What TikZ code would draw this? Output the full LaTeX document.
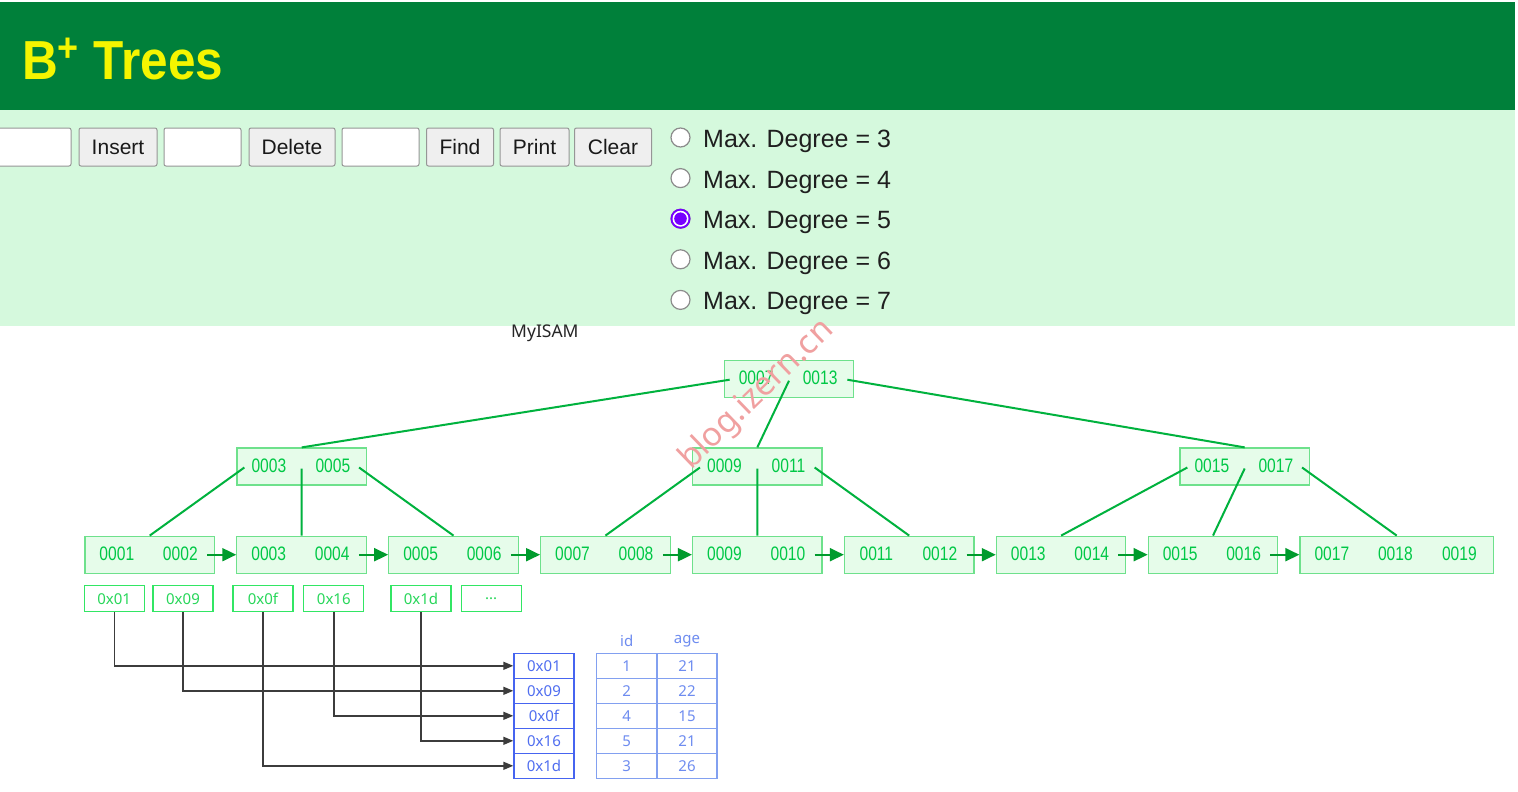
\documentclass[tikz,border=0pt]{standalone}
\usepackage{fontspec}
\setmainfont{Liberation Sans}
\newfontfamily\narrowf[FakeStretch=0.8]{Liberation Sans}
\newfontfamily\titlef[FakeStretch=0.9]{Liberation Sans}
\newfontfamily\notof{Noto Sans}
\usetikzlibrary{arrows.meta,calc}
\definecolor{hdr}{RGB}{0,128,58}
\definecolor{ttl}{RGB}{245,245,0}
\definecolor{panel}{RGB}{213,249,221}
\definecolor{kfill}{RGB}{230,252,234}
\definecolor{kbord}{RGB}{110,225,140}
\definecolor{ktext}{RGB}{0,200,70}
\definecolor{edgec}{RGB}{0,178,62}
\definecolor{arrc}{RGB}{0,155,45}
\definecolor{pbord}{RGB}{50,230,100}
\definecolor{ptext}{RGB}{40,215,90}
\definecolor{abord}{RGB}{70,100,240}
\definecolor{atext}{RGB}{80,110,240}
\definecolor{cbord}{RGB}{130,160,240}
\definecolor{ctext}{RGB}{110,140,240}
\definecolor{linkc}{RGB}{60,60,60}
\definecolor{btnf}{RGB}{239,239,239}
\definecolor{btnb}{RGB}{150,150,150}
\definecolor{radb}{RGB}{140,140,140}
\definecolor{radsel}{RGB}{118,0,255}
\definecolor{wmc}{RGB}{240,160,160}
\begin{document}
\begin{tikzpicture}[x=1pt,y=-1pt,
  knode/.style={draw=kbord, fill=kfill, line width=1.2pt, minimum height=37pt, minimum width=129.5pt, inner sep=0pt},
  key/.style={text=ktext, font=\narrowf\fontsize{19.5}{20}\selectfont, inner sep=0pt},
  tedge/.style={draw=edgec, line width=2pt},
  larrow/.style={draw=arrc, line width=2pt, -{Triangle[length=14pt,width=13pt]}},
  ptr/.style={draw=pbord, fill=white, line width=1.2pt, minimum width=60pt, minimum height=26pt, inner sep=0pt, text=ptext, font=\notof\fontsize{15}{15}\selectfont},
  addr/.style={draw=abord, line width=1.4pt, minimum width=60pt, minimum height=25pt, inner sep=0pt, text=atext, font=\notof\fontsize{15}{15}\selectfont},
  cell/.style={draw=cbord, line width=1.2pt, minimum width=60pt, minimum height=25pt, inner sep=0pt, text=ctext, font=\notof\fontsize{15}{15}\selectfont},
  colhead/.style={inner sep=0pt, text=ctext, font=\notof\fontsize{15}{15}\selectfont},
  link/.style={draw=linkc, line width=1.4pt, -{Triangle[length=10pt,width=8pt]}},
  btn/.style={draw=btnb, fill=btnf, rounded corners=2pt, line width=1pt, minimum height=38pt, inner sep=0pt, font=\fontsize{21}{21}\selectfont, text=black!90},
  inbox/.style={draw=btnb, fill=white, rounded corners=2pt, line width=1pt, minimum height=38pt, inner sep=0pt},
  radio/.style={circle, draw=radb, fill=white, line width=1.2pt, minimum size=19pt, inner sep=0pt},
  deg/.style={anchor=base west, inner sep=0pt, font=\fontsize{25}{25}\selectfont, text=black!88}
]
\useasboundingbox (0,0) rectangle (1518,792);
\fill[white] (0,0) rectangle (1518,792);
\fill[hdr] (0,2) rectangle (1515,110);
\fill[panel] (0,110) rectangle (1515,326);

% title
\node[anchor=base west, inner sep=0pt, text=ttl, font=\titlef\bfseries\fontsize{55}{55}\selectfont] (title) at (22,80)
  {B\raisebox{18.5pt}{\fontsize{40}{40}\selectfont +}\hspace{15pt}Trees};

% controls
\node[inbox, minimum width=80pt] (in1) at (31,147) {};
\node[btn, minimum width=78pt] (bins) at (118,147) {Insert};
\node[inbox, minimum width=77pt] (in2) at (202.5,147) {};
\node[btn, minimum width=86pt] (bdel) at (292,147) {Delete};
\node[inbox, minimum width=77pt] (in3) at (380.5,147) {};
\node[btn, minimum width=67pt] (bfind) at (460,147) {Find};
\node[btn, minimum width=69pt] (bprint) at (534.5,147) {Print};
\node[btn, minimum width=77pt] (bclear) at (613,147) {Clear};

% radio options
\foreach \i/\d in {0/3,1/4,2/5,3/6,4/7} {
  \node[radio] (r\d) at (680.5,{137.5+40.6*\i}) {};
  \node[deg] (t\d) at (703,{147.8+40.5*\i}) {Max. Degree = \d};
}
\fill[radsel] (r5.center) circle (10pt);
\fill[white] (r5.center) circle (8pt);
\fill[radsel] (r5.center) circle (6.3pt);

\node[anchor=base west, inner sep=0pt, font=\notof\fontsize{17.5}{17.5}\selectfont, text=black!85] (my) at (511,337) {MyISAM};

% tree: root and internal nodes
\node[knode] (R) at (789,378.7) {};
\node[key] (R1) at ($(R.west)+(32.5,-1)$) {0007};
\node[key] (R2) at ($(R.west)+(96.5,-1)$) {0013};
\foreach \n/\x/\a/\b in {I1/301.7/0003/0005, I2/757.3/0009/0011, I3/1244.7/0015/0017} {
  \node[knode] (\n) at (\x,466.5) {};
  \node[key] (\n k1) at ($(\n.west)+(32.5,-1)$) {\a};
  \node[key] (\n k2) at ($(\n.west)+(96.5,-1)$) {\b};
}
% leaves
\foreach \i/\a/\b in {1/0001/0002, 2/0003/0004, 3/0005/0006, 4/0007/0008, 5/0009/0010, 6/0011/0012, 7/0013/0014, 8/0015/0016} {
  \node[knode] (L\i) at ({149.7+151.9*(\i-1)},554.7) {};
  \node[key] (K\i1) at ($(L\i.west)+(32.5,-1)$) {\a};
  \node[key] (K\i2) at ($(L\i.west)+(96,-1)$) {\b};
}
\node[knode, minimum width=193.5pt] (L9) at (1396.7,554.7) {};
\node[key] (K91) at ($(L9.west)+(32.5,-1)$) {0017};
\node[key] (K92) at ($(L9.west)+(96,-1)$) {0018};
\node[key] (K93) at ($(L9.west)+(160,-1)$) {0019};

% tree edges
\draw[tedge] ($(R.west)+(6,1)$) -- (I1.north);
\draw[tedge] ($(R.center)+(0,2)$) -- (I2.north);
\draw[tedge] ($(R.east)+(-7,1)$) -- (I3.north);
\foreach \n/\p/\q/\r in {I1/L1/L2/L3, I2/L4/L5/L6, I3/L7/L8/L9} {
  \draw[tedge] ($(\n.west)+(8,1)$) -- (\p.north);
  \draw[tedge] ($(\n.center)+(0,2)$) -- (\q.north);
  \draw[tedge] ($(\n.east)+(-8,1)$) -- (\r.north);
}
\foreach \i/\j in {1/2,2/3,3/4,4/5,5/6,6/7,7/8,8/9} {
  \draw[larrow] ($(L\i.east)+(-8,0)$) -- (L\j.west);
}

% pointer row
\node[ptr] (P1) at (114.2,598.7) {0x01};
\node[ptr] (P2) at (183,598.7) {0x09};
\node[ptr] (P3) at (263,598.7) {0x0f};
\node[ptr] (P4) at (333.8,598.7) {0x16};
\node[ptr] (P5) at (421,598.7) {0x1d};
\node[ptr] (P6) at (491.2,598.7) {...};

% address column
\foreach \i/\t in {1/0x01,2/0x09,3/0x0f,4/0x16,5/0x1d} {
  \node[addr] (D\i) at (544,{640.8+25*\i}) {\t};
}
% data table
\node[colhead] (hid) at (626.7,641) {id};
\node[colhead] (hage) at (687,641) {age};
\foreach \i/\a/\b in {1/1/21,2/2/22,3/4/15,4/5/21,5/3/26} {
  \node[cell] (T\i1) at (626.7,{640.8+25*\i}) {\a};
  \node[cell] (T\i2) at (687,{640.8+25*\i}) {\b};
}

% links
\draw[link] (P1.south) |- (D1.west);
\draw[link] (P2.south) |- (D2.west);
\draw[link] (P4.south) |- (D3.west);
\draw[link] (P5.south) |- (D4.west);
\draw[link] (P3.south) |- (D5.west);

% watermark
\node[rotate=44, inner sep=0pt, text=wmc, font=\notof\fontsize{33}{33}\selectfont] (wm) at (757,395) {blog.izern.cn};
\end{tikzpicture}
\end{document}
